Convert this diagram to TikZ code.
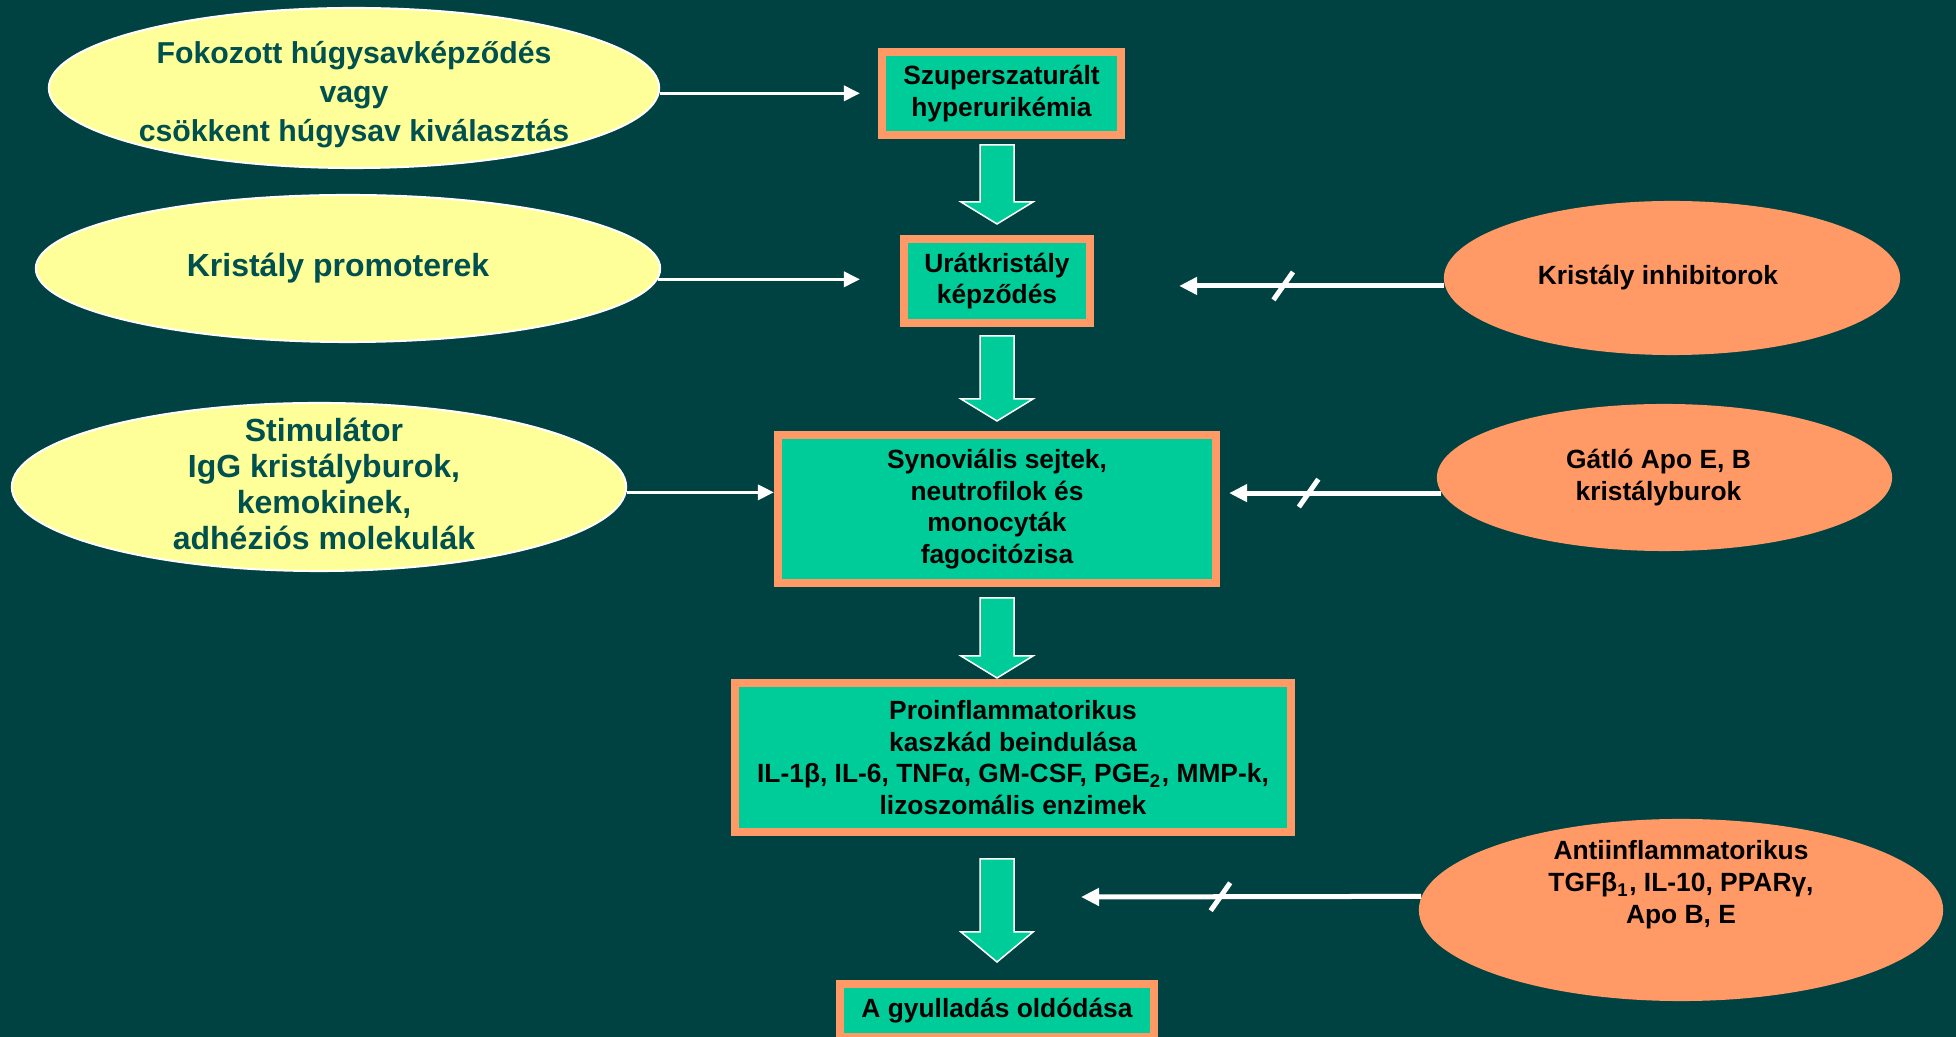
\documentclass[tikz,border=0pt]{standalone}
\usepackage{fontspec}
\setmainfont{Liberation Sans}
\usetikzlibrary{shapes.geometric, arrows.meta}
\definecolor{bgteal}{HTML}{004241}
\definecolor{boxgreen}{HTML}{00CC99}
\definecolor{peach}{HTML}{FF9966}
\definecolor{lemon}{HTML}{FFFF99}
\definecolor{darkteal}{HTML}{005050}

\begin{document}
\begin{tikzpicture}[x=0.01cm, y=-0.01cm,
    box/.style={rectangle, draw=peach, line width=0.08cm, fill=boxgreen, inner sep=0pt, align=center, font=\bfseries\fontsize{7.5}{9}\selectfont},
    yell/.style={ellipse, draw=white, line width=0.02cm, fill=lemon, inner sep=0pt},
    oval/.style={ellipse, fill=peach, inner sep=0pt},
    ytext/.style={align=center, text=darkteal, font=\bfseries\fontsize{9.1}{10.3}\selectfont},
    otext/.style={align=center, font=\bfseries\fontsize{7.5}{9.1}\selectfont},
    thinarrow/.style={draw=white, line width=0.035cm, -{Triangle[length=0.16cm, width=0.15cm]}},
    thickarrow/.style={draw=white, line width=0.05cm, -{Triangle[length=0.18cm, width=0.17cm]}},
    cut/.style={rectangle, fill=white, inner sep=0pt, minimum width=0.05cm, minimum height=0.34cm, rotate=-35},
    blockarrow/.style={fill=boxgreen, draw=white, line width=0.015cm}]
  \useasboundingbox (0,0) rectangle (1956,1037);
  \fill[bgteal] (0,0) rectangle (1956,1037);

  % causes on the left
  \node[yell, minimum width=6.1cm, minimum height=1.6cm] (fok) at (354,88) {};
  \node[ytext, font=\bfseries\fontsize{8.6}{11.1}\selectfont] at ([yshift=-0.07cm]fok.center) {Fokozott húgysavképződés\\vagy\\csökkent húgysav kiválasztás};
  \node[yell, minimum width=6.24cm, minimum height=1.47cm] (promo) at (348,268.5) {};
  \node[ytext] at ([xshift=-0.1cm]promo.center) {Kristály promoterek};
  \node[yell, minimum width=6.14cm, minimum height=1.68cm] (stim) at (319,487) {};
  \node[ytext] at ([xshift=0.05cm, yshift=0.03cm]stim.center) {Stimulátor\\IgG kristályburok,\\kemokinek,\\adhéziós molekulák};

  % main chain
  \node[box, minimum width=2.39cm, minimum height=0.83cm] (szuper) at (1001.5,93.5) {Szuperszaturált\\hyperurikémia};
  \node[box, minimum width=1.86cm, minimum height=0.84cm] (urat) at (997,281) {Urátkristály\\képződés};
  \node[box, minimum width=4.38cm, minimum height=1.48cm] (syn) at (997,509) {Synoviális sejtek,\\neutrofilok és\\monocyták\\fagocitózisa};
  \node[box, minimum width=5.56cm, minimum height=1.49cm] (pro) at (1013,757.5) {Proinflammatorikus\\kaszkád beindulása\\IL-1β, IL-6, TNFα, GM-CSF, PGE\textsubscript{2}, MMP-k,\\lizoszomális enzimek};
  \node[box, minimum width=3.14cm, minimum height=0.53cm] (gyull) at (997,1010.5) {A gyulladás oldódása};

  % inhibitors on the right
  \node[oval, minimum width=4.56cm, minimum height=1.54cm] (inhib) at (1672,278) {};
  \node[otext] at ([xshift=-0.14cm]inhib.center) {Kristály inhibitorok};
  \node[oval, minimum width=4.55cm, minimum height=1.47cm] (gatlo) at (1664.5,477.5) {};
  \node[otext] at ([xshift=-0.06cm]gatlo.center) {Gátló Apo E, B\\kristályburok};
  \node[oval, minimum width=5.24cm, minimum height=1.82cm] (anti) at (1681,910) {};
  \node[otext] at ([yshift=0.25cm]anti.center) {Antiinflammatorikus\\TGFβ\textsubscript{1}, IL-10, PPARγ,\\Apo B, E};

  % big arrows down the chain
  \foreach \ya/\yb/\yc in {145/202/224, 336/399/421, 598/656/678, 859/932/962}
    \draw[blockarrow] (980,\ya) -- (1014,\ya) -- (1014,\yb) -- (1033,\yb) -- (997,\yc) -- (961,\yb) -- (980,\yb) -- cycle;

  \coordinate (res) at (1081,897);

  \draw[thinarrow, shorten >=0.18cm] (fok.359) -- (fok.359 -| szuper.west);
  \draw[thinarrow, shorten >=0.40cm] (promo.358) -- (promo.358 -| urat.west);
  \draw[thinarrow] (stim.359) -- (stim.359 -| syn.west);

  \draw[thickarrow, shorten >=0.85cm] (inhib.182) -- node[pos=.46, cut] {} (inhib.182 -| urat.east);
  \draw[thickarrow, shorten >=0.09cm] (gatlo.184) -- node[pos=.6, cut] {} (gatlo.184 -| syn.east);
  \draw[thickarrow] (anti.177) -- node[pos=.59, cut] {} (res);
\end{tikzpicture}
\end{document}
